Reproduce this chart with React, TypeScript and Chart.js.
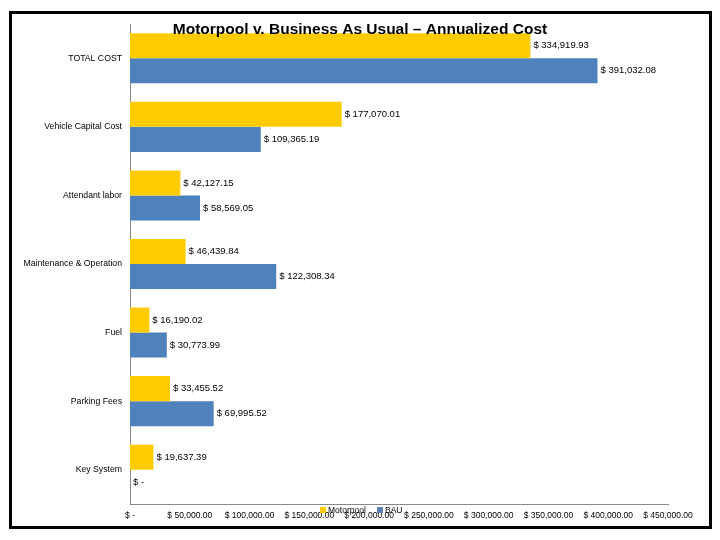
import React, { useEffect, useRef } from 'react';
import { Chart, registerables } from 'chart.js';

Chart.register(...registerables);

const categories = [
  'TOTAL COST',
  'Vehicle Capital Cost',
  'Attendant labor',
  'Maintenance & Operation',
  'Fuel',
  'Parking Fees',
  'Key System',
];
const motorpool = [334919.93, 177070.01, 42127.15, 46439.84, 16190.02, 33455.52, 19637.39];
const bau = [391032.08, 109365.19, 58569.05, 122308.34, 30773.99, 69995.52, 0];

const YELLOW = '#FFCC00';
const BLUE = '#4F81BD';
const FONT = '"Liberation Sans", Arial, sans-serif';

function money(v: number) {
  if (v === 0) return '$ -';
  const s = v.toFixed(2).replace(/\B(?=(\d{3})+(?!\d))/g, ',');
  return '$ ' + s;
}

// labels at the end of each bar, title over the plot and the little legend
const overlay = {
  id: 'overlay',
  afterDatasetsDraw(chart: any) {
    const ctx = chart.ctx;
    ctx.save();
    ctx.font = '9.5px ' + FONT;
    ctx.fillStyle = '#000';
    ctx.textAlign = 'left';
    ctx.textBaseline = 'middle';
    chart.data.datasets.forEach((ds: any, i: number) => {
      const meta = chart.getDatasetMeta(i);
      meta.data.forEach((bar: any, j: number) => {
        ctx.fillText(money(ds.data[j]), bar.x + 3, bar.y);
      });
    });
    ctx.restore();
  },
  afterDraw(chart: any) {
    const ctx = chart.ctx;
    ctx.save();
    ctx.font = 'bold 15.5px ' + FONT;
    ctx.fillStyle = '#000';
    ctx.textAlign = 'center';
    ctx.textBaseline = 'middle';
    ctx.fillText('Motorpool v. Business As Usual \u2013 Annualized Cost', 360, 30);

    ctx.font = '8.5px ' + FONT;
    ctx.textAlign = 'left';
    ctx.fillStyle = YELLOW;
    ctx.fillRect(320, 507, 6, 6);
    ctx.fillStyle = '#000';
    ctx.fillText('Motorpool', 328, 511);
    ctx.fillStyle = '#5B80B5';
    ctx.fillRect(377, 507, 6, 6);
    ctx.fillStyle = '#000';
    ctx.fillText('BAU', 385, 511);
    ctx.restore();
  },
};

export default function App() {
  const canvasRef = useRef<HTMLCanvasElement>(null);
  const chartRef = useRef<Chart | null>(null);

  useEffect(() => {
    document.body.style.margin = '0';
    if (!canvasRef.current) return;
    if (chartRef.current) chartRef.current.destroy();

    chartRef.current = new Chart(canvasRef.current, {
      type: 'bar',
      data: {
        labels: categories,
        datasets: [
          { label: 'Motorpool', data: motorpool, backgroundColor: YELLOW },
          { label: 'BAU', data: bau, backgroundColor: BLUE },
        ],
      },
      options: {
        indexAxis: 'y',
        animation: false,
        responsive: false,
        layout: { padding: { left: 0, top: 24, right: 52, bottom: 0 } },
        datasets: { bar: { categoryPercentage: 0.73, barPercentage: 1 } },
        plugins: {
          legend: { display: false },
          title: { display: false },
          tooltip: { enabled: false },
        },
        scales: {
          x: {
            min: 0,
            max: 450000,
            afterFit: (scale: any) => { scale.height = 36; },
            grid: { display: false, drawTicks: false },
            border: { color: '#888' },
            ticks: {
              stepSize: 50000,
              autoSkip: false,
              maxRotation: 0,
              padding: 7,
              color: '#000',
              font: { family: FONT, size: 8.5 },
              callback: (v: any) => money(Number(v)),
            },
          },
          y: {
            afterFit: (scale: any) => { scale.width = 130; },
            grid: { display: false, drawTicks: false },
            border: { color: '#888' },
            ticks: {
              padding: 8,
              color: '#000',
              font: { family: FONT, size: 8.7 },
            },
          },
        },
      },
      plugins: [overlay],
    });

    return () => {
      if (chartRef.current) {
        chartRef.current.destroy();
        chartRef.current = null;
      }
    };
  }, []);

  return (
    <div style={{ position: 'relative', width: 720, height: 540, background: '#fff' }}>
      <canvas ref={canvasRef} width={720} height={540} style={{ position: 'absolute', left: 0, top: 0 }} />
      <div
        style={{
          position: 'absolute',
          left: 9,
          top: 11,
          width: 697,
          height: 512,
          border: '3px solid #000',
          pointerEvents: 'none',
        }}
      />
    </div>
  );
}
